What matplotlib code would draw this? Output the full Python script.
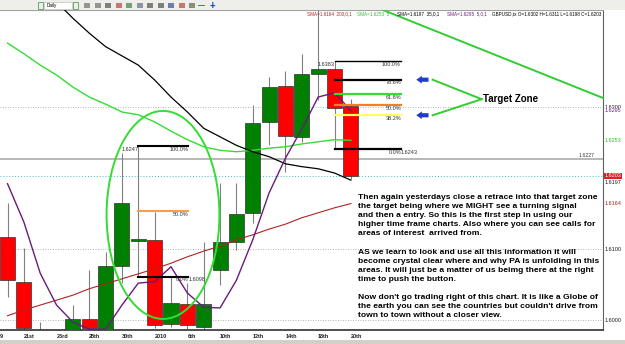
import numpy as np
import matplotlib.pyplot as plt
from matplotlib.patches import Ellipse, Rectangle

plt.rcParams['font.family'] = ['Liberation Sans', 'DejaVu Sans']

# GBPUSD daily candles, oldest first (last bar = current bar from the header)
opens  = [1.6117, 1.6054, 1.5978, 1.5965, 1.5975, 1.6001, 1.5985, 1.6076, 1.6111, 1.6113, 1.5994,
          1.6023, 1.5990, 1.6070, 1.6110, 1.6151, 1.6279, 1.6330, 1.6258, 1.6346, 1.6354, 1.6302]
highs  = [1.6165, 1.6101, 1.5997, 1.5980, 1.6021, 1.6070, 1.6096, 1.6235, 1.6245, 1.6152, 1.6061,
          1.6052, 1.6110, 1.6193, 1.6193, 1.6303, 1.6342, 1.6351, 1.6375, 1.6450, 1.6365, 1.6311]
lows   = [1.6032, 1.5980, 1.5950, 1.5940, 1.5960, 1.5982, 1.5980, 1.6052, 1.6061, 1.5989, 1.5990,
          1.5988, 1.5985, 1.6049, 1.6099, 1.6137, 1.6246, 1.6208, 1.6251, 1.6310, 1.6241, 1.6198]
closes = [1.6056, 1.5989, 1.5970, 1.5975, 1.6001, 1.5989, 1.6076, 1.6165, 1.6114, 1.5993, 1.6024,
          1.5993, 1.6023, 1.6110, 1.6149, 1.6277, 1.6328, 1.6259, 1.6346, 1.6354, 1.6299, 1.6203]

nan = np.nan
sma5   = [1.6192, 1.6138, 1.6066, 1.6021, 1.5997, 1.5987, 1.5987, 1.6021, 1.6052, 1.6054, 1.6075,
          1.6038, 1.6018, 1.6017, 1.6056, 1.6113, 1.6179, 1.6228, 1.6269, 1.6314, 1.6320, 1.6295]
sma35  = [nan, nan, nan, 1.6448, 1.6425, 1.6404, 1.6385, 1.6372, 1.6359, 1.6338, 1.6314,
          1.6293, 1.6270, 1.6258, 1.6246, 1.6237, 1.6230, 1.6220, 1.6216, 1.6213, 1.6207, 1.6197]
sma50  = [1.6390, 1.6375, 1.6359, 1.6345, 1.6328, 1.6314, 1.6304, 1.6293, 1.6289, 1.6279, 1.6266,
          1.6254, 1.6244, 1.6239, 1.6237, 1.6239, 1.6242, 1.6244, 1.6248, 1.6251, 1.6254, 1.6253]
sma200 = [1.6006, 1.6014, 1.6021, 1.6028, 1.6035, 1.6044, 1.6051, 1.6058, 1.6065, 1.6072, 1.6080,
          1.6089, 1.6097, 1.6104, 1.6113, 1.6120, 1.6128, 1.6135, 1.6144, 1.6151, 1.6158, 1.6164]

date_bars = [1, 3, 5, 7, 9, 11, 13, 15, 17, 19, 21]
date_labels = ["21st", "23rd", "28th", "30th", "2010", "6th", "10th", "12th", "14th", "18th", "20th"]

grid_levels = [1.6000, 1.6100, 1.6300]
level_line = 1.6227
bid = 1.6203

right_fib = [0.0, 0.382, 0.5, 0.618, 0.786, 1.0]
right_fib_colors = ["black", "#ffff66", "#f08020", "#33dd33", "black", "black"]
left_fib = [0.0, 0.5, 1.0]
left_fib_colors = ["black", "#f0a050", "black"]

text_block = ("Then again yesterdays close a retrace into that target zone\n"
              "the target being where we MIGHT see a turning signal\n"
              "and then a entry. So this is the first step in using our\n"
              "higher time frame charts. Also where you can see calls for\n"
              "areas of interest  arrived from.\n"
              "\n"
              "AS we learn to look and use all this information it will\n"
              "become crystal clear where and why PA is unfolding in this\n"
              "areas. It will just be a matter of us beimg there at the right\n"
              "time to push the button.\n"
              "\n"
              "Now don't go trading right of this chart. It is like a Globe of\n"
              "the earth you can see the countries but couldn't drive from\n"
              "town to town without a closer view.")

W, H = 625, 344
fig = plt.figure(figsize=(6.25, 3.44), dpi=100)
ax = fig.add_axes([0, 1 - 330 / H, 603 / W, 320 / H])
ax.set_xlim(-0.4587, 36.42)
ax.set_ylim(1.598592, 1.643662)
ax.set_xticks([])
ax.set_yticks([])
ax.spines['left'].set_visible(False)
ax.spines['top'].set_color('#a0a0a0')
ax.spines['right'].set_color('#606060')
ax.spines['bottom'].set_color('#303030')
ax.spines['bottom'].set_linewidth(1.2)

x = np.arange(len(opens))
o = np.array(opens); c = np.array(closes)

# grid and horizontal lines
for g in grid_levels:
    ax.axhline(g, color='#9a9a9a', lw=0.6, ls=(0, (1, 2)), zorder=1)
ax.axhline(level_line, color='#b8b8b8', lw=1.4, zorder=1)
ax.axhline(bid, color='#40c0c8', lw=0.7, ls=(0, (1, 2)), zorder=1)

# candles
ax.vlines(x, lows, highs, color='#808080', lw=0.8, zorder=2)
up = c >= o
cols = np.where(up, '#008000', '#ff0000')
hgt = np.where(np.abs(c - o) < 0.0003, 0.0003, c - o)
ax.bar(x, hgt, bottom=o, width=0.92, color=cols, edgecolor='#303030', lw=0.5, zorder=3)

# moving averages
ax.plot(x, sma200, color='#b22222', lw=0.8, zorder=4)
ax.plot(x, sma50, color='#33dd33', lw=1.0, zorder=4)
ax.plot(x, sma35, color='black', lw=0.9, zorder=4)
ax.plot(x, sma5, color='#6a1b7a', lw=1.0, zorder=4)

# fibonacci retracements
lo, hi = lows[20], highs[20]
for r, col in zip(right_fib, right_fib_colors):
    lv = lo + r * (hi - lo)
    ax.plot([20.0, 24.07], [lv, lv], color=col, lw=1.0 if r == 1.0 else 1.6, zorder=5)
    lab = "%.1f%%" % (r * 100)
    ax.text(24.07, lv - 0.0001, lab, ha='right', va='top', fontsize=4, color='#333333', zorder=6)
ax.text(24.07, lo - 0.0001, "1.6243", ha='left', va='top', fontsize=4, color='#333333')
ax.text(20.0, hi - 0.0001, "1.6383", ha='right', va='top', fontsize=4, color='#333333')

lo2, hi2 = lows[8], highs[8]
for r, col in zip(left_fib, left_fib_colors):
    lv = lo2 + r * (hi2 - lo2)
    ax.plot([8.0, 11.05], [lv, lv], color=col, lw=1.5, zorder=5)
    ax.text(11.05, lv - 0.0001, "%.1f%%" % (r * 100), ha='right', va='top', fontsize=4,
            color='#333333', zorder=6)
ax.text(11.05, lo2 - 0.0001, "1.6098", ha='left', va='top', fontsize=4, color='#333333')
ax.text(8.0, hi2 - 0.0001, "1.6247", ha='right', va='top', fontsize=4, color='#333333')

# hand-drawn annotations
ax.add_patch(Ellipse((9.51, 1.6148), 6.9, 0.0293, fill=False, ec='#33dd33', lw=1.4, zorder=7))
lv786 = lo + 0.786 * (hi - lo)
lv382 = lo + 0.382 * (hi - lo)
for lv in (lv786, lv382):
    ax.annotate('', xy=(25.0, lv), xytext=(25.75, lv),
                arrowprops=dict(arrowstyle='simple,head_length=0.4,head_width=0.55,tail_width=0.3',
                                color='#1e3cc8', lw=0, shrinkA=0, shrinkB=0), zorder=7)
    ax.plot([26.0, 29.0], [lv, 1.6311], color='#33cc33', lw=1.4, zorder=7)
ax.plot([22.97, 36.42], [1.64366, 1.63127], color='#33cc33', lw=1.4, zorder=7, clip_on=False)
ax.text(29.1, 1.6311, "Target Zone", fontsize=7, fontweight='bold', ha='left', va='center')
ax.text(34.9, level_line + 0.0001, "1.6227", fontsize=3.8, color='#404040', ha='left', va='bottom')

# text block
fig.text(358 / W, 1 - 194 / H, text_block, fontsize=6.1, fontweight='bold', ha='left', va='top',
         linespacing=1.42)

# right price labels
def plabel(p, s, col, **kw):
    ax.text(1.003, p, s, transform=ax.get_yaxis_transform(), fontsize=4, color=col,
            ha='left', va='center', clip_on=False, **kw)

plabel(1.6300, "1.6300", '#202020')
plabel(sma5[-1], "1.6295", '#6a1b7a', bbox=dict(fc='white', ec='none', pad=0.2))
plabel(sma50[-1], "1.6253", '#33bb33')
plabel(sma35[-1] - 0.0004, "1.6197", '#202020')
plabel(bid, "1.6203", 'white', bbox=dict(fc='#e02020', ec='none', pad=0.3))
plabel(sma200[-1], "1.6164", '#b22222')
plabel(1.6100, "1.6100", '#202020')
plabel(1.6000, "1.6000", '#202020')

# date labels
for b, s in zip(date_bars, date_labels):
    ax.text(b, -0.012, s, transform=ax.get_xaxis_transform(), fontsize=4, fontweight='bold',
            ha='left', va='top', color='#202020', clip_on=False)
fig.text(0.0, 1 - 336 / H, "9", fontsize=4, fontweight='bold', ha='left', va='center', color='#202020')

# header line of indicator values
hy = 1 - 14 / H
fig.text(307 / W, hy, "SMA=1.6164  200,0,1", fontsize=3.3, color='#b22222', va='center')
fig.text(357 / W, hy, "SMA=1.6253  5", fontsize=3.3, color='#33bb33', va='center')
fig.text(397 / W, hy, "SMA=1.6197  35,0,1", fontsize=3.3, color='black', va='center')
fig.text(447 / W, hy, "SMA=1.6295  5,0,1", fontsize=3.3, color='#6a1b7a', va='center')
fig.text(492 / W, hy, "GBPUSD,tx O=1.6302 H=1.6311 L=1.6198 C=1.6203", fontsize=3.3,
         color='black', va='center')

# toolbar strip and window bottom
fig.patches.append(Rectangle((0, 1 - 10 / H), 1, 10 / H, transform=fig.transFigure,
                             fc='#eeeeea', ec='none', zorder=0))
fig.patches.append(Rectangle((0, 0), 1, 4 / H, transform=fig.transFigure,
                             fc='#d4d0c8', ec='none', zorder=0))
for bx in (38, 73):
    fig.patches.append(Rectangle((bx / W, 1 - 9 / H), 5 / W, 7 / H, transform=fig.transFigure,
                                 fc='#e8f0e8', ec='#4a8a4a', lw=0.5))
fig.patches.append(Rectangle((44 / W, 1 - 9 / H), 28 / W, 7 / H, transform=fig.transFigure,
                             fc='white', ec='#b0b0b0', lw=0.4))
fig.text(47 / W, 1 - 5.5 / H, "Daily", fontsize=3.3, va='center')
icon_cols = ['#707070', '#707070', '#505050', '#c04040', '#408040', '#607090',
             '#505050', '#505050', '#3050a0', '#c04040', '#606060']
for k, ic in enumerate(icon_cols):
    fig.patches.append(Rectangle(((84 + 10.5 * k) / W, 1 - 8 / H), 6 / W, 5 / H,
                                 transform=fig.transFigure, fc=ic, ec='none', alpha=0.7))
fig.text(202 / W, 1 - 5.5 / H, "\u2014", fontsize=5, color='#2040c0', ha='center', va='center',
         fontweight='bold')
fig.text(212 / W, 1 - 5.5 / H, "+", fontsize=7, color='#2040c0', ha='center', va='center',
         fontweight='bold')

fig.savefig("out.png", dpi=100, facecolor='white')
